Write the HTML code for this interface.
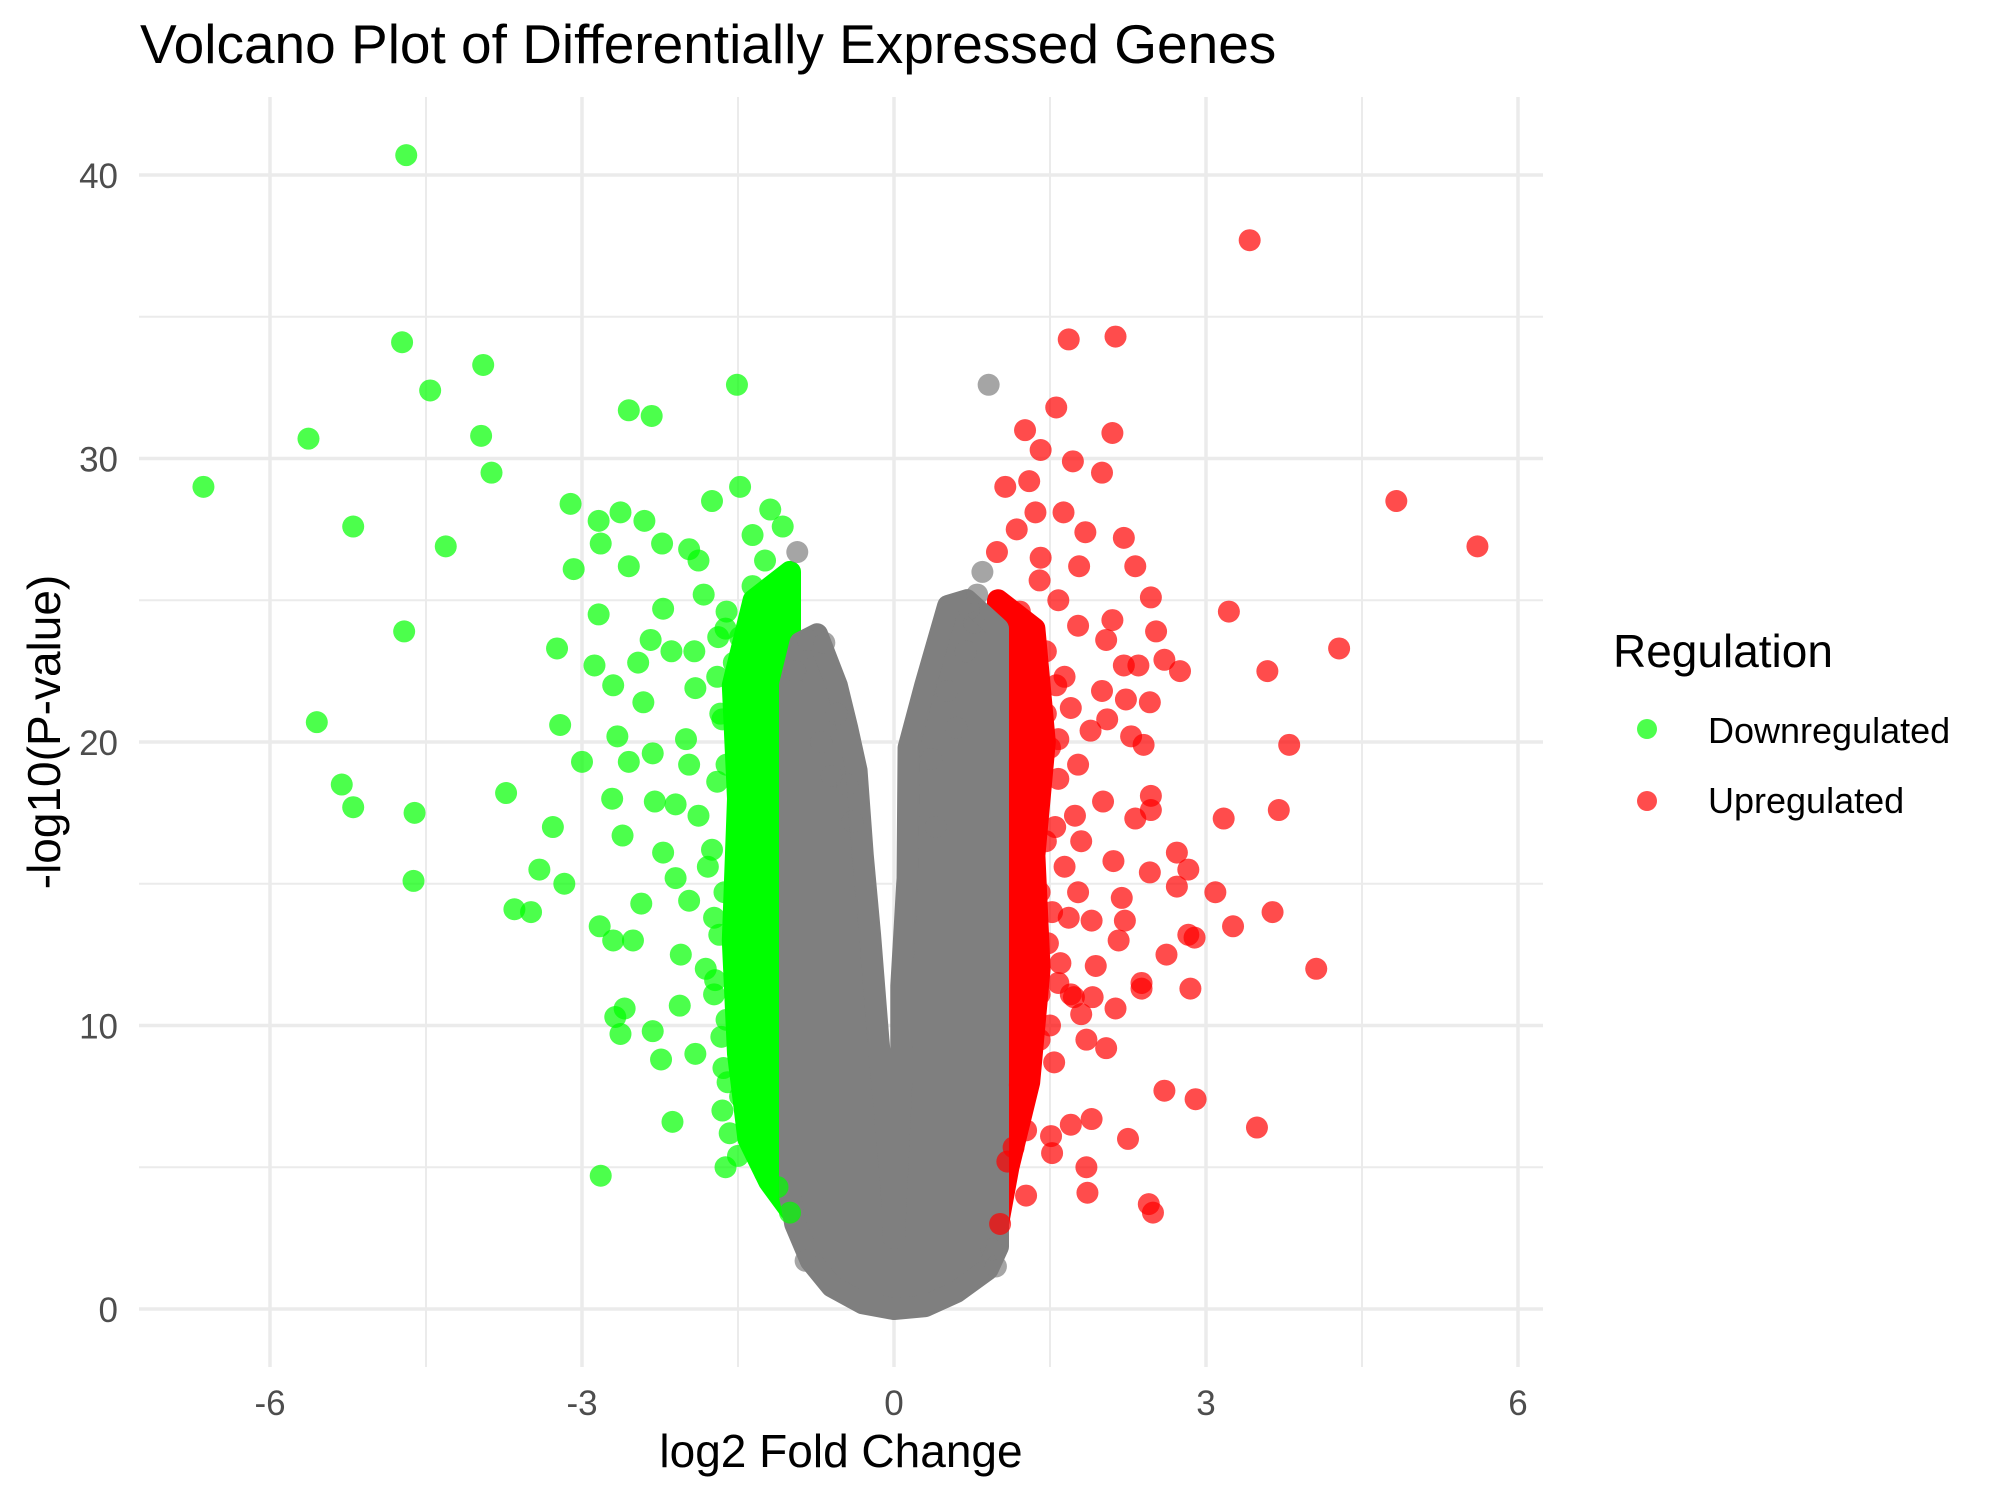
<!DOCTYPE html>
<html><head><meta charset="utf-8">
<style>
html,body{margin:0;padding:0;background:#fff;}
svg{display:block;font-family:"Liberation Sans",Arial,sans-serif;}
</style></head>
<body>
<svg id="chart" width="2000" height="1500" viewBox="0 0 2000 1500" xmlns="http://www.w3.org/2000/svg">
<rect width="2000" height="1500" fill="#fff"/>
<g id="grid"></g>
<g id="bands"></g>
<g id="points"></g>
<g id="axes"></g>
<text x="140" y="63" font-size="55" fill="#000">Volcano Plot of Differentially Expressed Genes</text>
<text x="841" y="1467" font-size="46" fill="#000" text-anchor="middle">log2 Fold Change</text>
<text x="0" y="0" font-size="46" fill="#000" text-anchor="middle" transform="translate(60,732) rotate(-90)">-log10(P-value)</text>
<g>
<text x="1613" y="667" font-size="46" fill="#000">Regulation</text>
<g>
<circle cx="1647" cy="729" r="10" fill="#00ff00" fill-opacity="0.7"/>
<text x="1708" y="743" font-size="36" fill="#000">Downregulated</text>
</g>
<g>
<circle cx="1647" cy="801" r="10" fill="#ff0000" fill-opacity="0.7"/>
<text x="1708" y="813" font-size="36" fill="#000">Upregulated</text>
</g>
</g>
</svg>
<script>
const xMajorTicks = [-6, -3, 0, 3, 6];
const xMinorTicks = [-4.5, -1.5, 1.5, 4.5];
const yMajorTicks = [0, 10, 20, 30, 40];
const yMinorTicks = [5, 15, 25, 35];
const xTickLabels = ["-6", "-3", "0", "3", "6"];
const yTickLabels = ["0", "10", "20", "30", "40"];

// dense regions (outline of point centres)
const greyCloudX = [-0.3,-0.6,-0.8,-0.95,-1.0,-1.0,-0.9,-0.74,-0.55,-0.45,-0.36,-0.3,-0.23,-0.15,-0.1,-0.02,0,0.02,0.07,0.07,0.13,0.14,0.3,0.52,0.7,0.85,1.0,1.0,0.9,0.6,0.3,0];
const greyCloudY = [0.2,0.8,1.7,3,4,22,23.5,23.8,22,20.5,19,16,13.2,9.5,7.5,4,2.5,4,8,11.4,15.2,19.8,22,24.8,25,24.5,24,2.2,1.4,0.6,0.1,0];
const greenCloudX = [-1.0,-1.2,-1.4,-1.5,-1.55,-1.5,-1.55,-1.35,-1.0];
const greenCloudY = [3.5,4.5,6,9,13,18,22,25,26];
const redCloudX = [1.0,1.1,1.3,1.4,1.35,1.45,1.35,1.0];
const redCloudY = [3,5,8,12,16,20,24,25];

const downX = [-4.69,-6.64,-4.73,-4.46,-3.95,-5.63,-3.97,-3.87,-5.20,-4.31,-4.71,-5.55,-5.31,-5.20,-4.61,-4.62,-3.73,-3.24,-3.21,-3.00,-3.28,-3.41,-3.17,-3.65,-3.49,-2.82,-1.51,-2.55,-2.33,-3.11,-3.08,-2.82,-2.84,-2.63,-2.40,-1.75,-1.48,-1.19,-1.07,-2.55,-2.23,-1.97,-2.84,-2.88,-2.70,-2.66,-2.55,-2.71,-2.61,-2.83,-2.70,-2.51,-2.43,-2.59,-2.68,-2.63,-2.32,-2.24,-2.13,-2.05,-2.06,-1.91,-1.64,-1.65,-1.62,-1.50,-2.46,-2.34,-2.22,-2.14,-2.41,-2.32,-2.30,-2.22,-2.10,-1.97,-1.91,-1.97,-1.88,-1.79,-1.73,-1.81,-1.73,-1.83,-1.69,-1.92,-2.00,-2.10,-1.88,-1.36,-1.24,-1.36,-1.61,-1.48,-1.54,-1.67,-1.61,-1.48,-1.63,-1.54,-1.61,-1.48,-1.36,-1.24,-1.12,-1.0,-1.65,-1.7,-1.75,-1.68,-1.72,-1.66,-1.6,-1.7,-1.62,-1.58];
const downY = [40.7,29.0,34.1,32.4,33.3,30.7,30.8,29.5,27.6,26.9,23.9,20.7,18.5,17.7,17.5,15.1,18.2,23.3,20.6,19.3,17.0,15.5,15.0,14.1,14.0,4.7,32.6,31.7,31.5,28.4,26.1,27.0,27.8,28.1,27.8,28.5,29.0,28.2,27.6,26.2,27.0,26.8,24.5,22.7,22.0,20.2,19.3,18.0,16.7,13.5,13.0,13.0,14.3,10.6,10.3,9.7,9.8,8.8,6.6,12.5,10.7,9.0,8.5,7.0,5.0,5.4,22.8,23.6,24.7,23.2,21.4,19.6,17.9,16.1,15.2,14.4,21.9,19.2,17.4,15.6,13.8,12.0,11.1,25.2,23.7,23.2,20.1,17.8,26.4,27.3,26.4,25.5,24.6,23.7,22.8,21.0,19.2,17.4,14.7,12.9,10.2,7.5,6.6,4.8,4.3,3.4,20.8,18.6,16.2,13.2,11.6,9.6,8.0,22.3,24.0,6.2];

const upX = [3.42,1.68,2.13,4.83,5.61,3.22,4.28,3.59,3.80,3.17,3.70,3.09,3.26,3.64,4.06,3.49,2.90,2.60,2.25,2.45,2.49,1.86,1.85,1.90,1.70,1.51,1.52,1.27,1.02,1.27,1.56,1.26,1.41,1.72,2.10,2.00,1.30,1.07,1.63,1.36,1.18,1.84,2.21,1.78,2.32,1.41,0.99,2.47,2.10,2.52,2.04,2.21,2.35,2.60,2.75,2.00,2.23,2.46,2.05,2.28,2.40,1.89,2.01,2.32,2.47,2.47,2.11,2.46,2.72,2.83,2.72,2.19,2.22,1.90,2.62,2.83,2.89,2.16,2.38,2.38,2.85,2.13,1.94,1.73,1.91,1.80,2.04,1.85,1.54,1.40,1.70,1.58,1.68,1.77,1.64,1.80,1.74,1.58,1.77,1.58,1.70,1.64,1.46,1.77,1.58,1.40,1.21,1.46,1.40,1.46,1.40,1.48,1.40,1.27,1.21,1.15,1.09,1.5,1.55,1.52,1.6,1.5,1.56];
const upY = [37.7,34.2,34.3,28.5,26.9,24.6,23.3,22.5,19.9,17.3,17.6,14.7,13.5,14.0,12.0,6.4,7.4,7.7,6.0,3.7,3.4,4.1,5.0,6.7,6.5,6.1,5.5,4.0,3.0,6.3,31.8,31.0,30.3,29.9,30.9,29.5,29.2,29.0,28.1,28.1,27.5,27.4,27.2,26.2,26.2,26.5,26.7,25.1,24.3,23.9,23.6,22.7,22.7,22.9,22.5,21.8,21.5,21.4,20.8,20.2,19.9,20.4,17.9,17.3,18.1,17.6,15.8,15.4,16.1,15.5,14.9,14.5,13.7,13.7,12.5,13.2,13.1,13.0,11.5,11.3,11.3,10.6,12.1,11.0,11.0,10.4,9.2,9.5,8.7,9.5,11.1,11.5,13.8,14.7,15.6,16.5,17.4,18.7,19.2,20.1,21.2,22.3,23.2,24.1,25.0,25.7,24.6,21.0,18.3,16.5,14.7,12.9,11.1,9.3,7.9,5.7,5.2,19.8,17.0,14.0,12.2,10.0,22.0];

const nsX = [0.91,-0.93,-0.83,-0.67,-0.60,0.69,0.72,0.77,0.51,0.36,0.98,0.94,-0.85,-0.70,-0.45,-0.40,0.40,0.60,0.85,-0.95,0.80,-0.55];
const nsY = [32.6,26.7,23.6,23.5,18.8,23.2,24.7,24.2,21.8,19.4,1.5,2.1,1.7,20.0,18.5,17.2,17.0,20.5,26.0,22.5,25.2,21.0];

const X0 = 894, XS = 104, Y0 = 1309, YS = 28.35;
const PL = 139, PR = 1543, PT = 97, PB = 1367;
function sx(v){ return X0 + v * XS; }
function sy(v){ return Y0 - v * YS; }
const NS = "http://www.w3.org/2000/svg";
function mk(tag, attrs){ const e = document.createElementNS(NS, tag); for (const k in attrs) e.setAttribute(k, attrs[k]); return e; }

const grid = document.getElementById('grid');
xMinorTicks.forEach(v => {
  const l = mk('line', {x1: sx(v), x2: sx(v), y1: PT, y2: PB, stroke: '#ebebeb', 'stroke-width': 2});
  
  
  grid.appendChild(l);
});
yMinorTicks.forEach(v => {
  const l = mk('line', {x1: PL, x2: PR, y1: sy(v), y2: sy(v), stroke: '#ebebeb', 'stroke-width': 2});
  
  
  grid.appendChild(l);
});
xMajorTicks.forEach(v => {
  const l = mk('line', {x1: sx(v), x2: sx(v), y1: PT, y2: PB, stroke: '#ebebeb', 'stroke-width': 3.5});
  
  
  grid.appendChild(l);
});
yMajorTicks.forEach(v => {
  const l = mk('line', {x1: PL, x2: PR, y1: sy(v), y2: sy(v), stroke: '#ebebeb', 'stroke-width': 3.5});
  
  
  grid.appendChild(l);
});

const axes = document.getElementById('axes');
xMajorTicks.forEach((v, i) => {
  const t = mk('text', {x: sx(v), y: 1415, 'font-size': 35, fill: '#4d4d4d', 'text-anchor': 'middle'});
  t.textContent = xTickLabels[i];
  
  
  axes.appendChild(t);
});
yMajorTicks.forEach((v, i) => {
  const t = mk('text', {x: 118, y: sy(v) + 13, 'font-size': 35, fill: '#4d4d4d', 'text-anchor': 'end'});
  t.textContent = yTickLabels[i];
  
  
  axes.appendChild(t);
});

const bands = document.getElementById('bands');
function band(xs, ys, color, name){
  const pts = xs.map((x, i) => sx(x) + ',' + sy(ys[i])).join(' ');
  const p = mk('polygon', {points: pts, fill: color, stroke: color, 'stroke-width': 22, 'stroke-linejoin': 'round'});
  
  
  bands.appendChild(p);
}
band(greenCloudX, greenCloudY, '#00ff00', 'downregulated-dense-cloud');
band(redCloudX, redCloudY, '#ff0000', 'upregulated-dense-cloud');
band(greyCloudX, greyCloudY, '#7f7f7f', 'not-significant-dense-cloud');

const pg = document.getElementById('points');
function drawPts(xs, ys, color, name){
  xs.forEach((x, i) => {
    const c = mk('circle', {cx: sx(x), cy: sy(ys[i]), r: 11, fill: color, 'fill-opacity': 0.7});
    
    
    pg.appendChild(c);
  });
}
drawPts(nsX, nsY, '#7f7f7f', 'point-not-significant');
drawPts(downX, downY, '#00ff00', 'point-downregulated');
drawPts(upX, upY, '#ff0000', 'point-upregulated');
</script>
</body></html>
